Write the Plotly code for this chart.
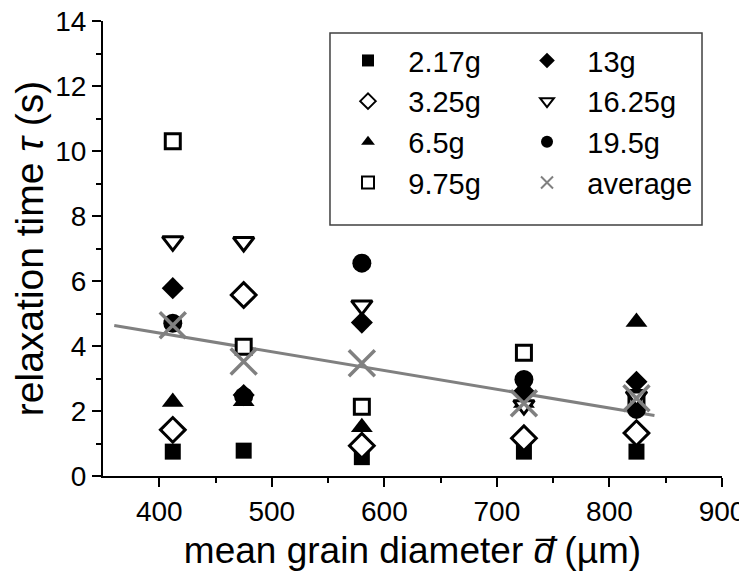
import plotly.graph_objects as go

# mean grain diameter (um) for each measured sample
diameter = [412, 475, 580, 724, 824]

# relaxation time tau (s) per loading mass
tau_2_17 = [0.75, 0.78, 0.58, 0.75, 0.75]
tau_3_25 = [1.42, 5.57, 0.93, 1.16, 1.32]
tau_6_5 = [2.28, 2.30, 1.50, 2.25, 4.74]
tau_9_75 = [10.30, 3.98, 2.13, 3.79, 2.40]
tau_13 = [5.78, 2.49, 4.72, 2.60, 2.90]
tau_16_25 = [7.22, 7.20, 5.25, 2.18, 2.45]
tau_19_5 = [4.70, 2.45, 6.55, 2.97, 2.05]
tau_avg = [4.64, 3.52, 3.47, 2.24, 2.39]

# linear fit through the averages (end points)
fit_d = [360, 840]
fit_tau = [4.63, 1.86]

FONT = "Liberation Sans, Arial, sans-serif"
GRAY = "#808080"
PAD = "\u2002\u2009"  # gap between legend symbol and label

# drawing order (bottom first): name, values, symbol, fill, size, legend, rank
series = [
    ("19.5g", tau_19_5, "circle", "black", 19, "legend2", 3),
    ("2.17g", tau_2_17, "square", "black", 16, "legend", 1),
    ("3.25g", tau_3_25, "diamond", "white", 19, "legend", 2),
    ("6.5g", tau_6_5, "triangle-up", "black", 19, "legend", 3),
    ("9.75g", tau_9_75, "square", "white", 15, "legend", 4),
    ("13g", tau_13, "diamond", "black", 17, "legend2", 1),
    ("16.25g", tau_16_25, "triangle-down", "white", 18, "legend2", 2),
]

fig = go.Figure()

fig.add_trace(go.Scatter(x=fit_d, y=fit_tau, mode="lines",
                         line=dict(color=GRAY, width=3), showlegend=False))

for name, vals, sym, fill, size, leg, rank in series:
    open_marker = fill == "white"
    fig.add_trace(go.Scatter(
        x=diameter, y=vals, mode="markers", name=PAD + name,
        legend=leg, legendrank=rank,
        marker=dict(symbol=sym, size=size, color=fill,
                    line=dict(color="black", width=3 if open_marker else 0)),
    ))

fig.add_trace(go.Scatter(
    x=diameter, y=tau_avg, mode="markers", name=PAD + "average",
    legend="legend2", legendrank=4,
    marker=dict(symbol="x-thin", size=26, color=GRAY,
                line=dict(color=GRAY, width=3.5)),
))

xr = [350, 900]
yr = [0, 14]

leg_style = dict(
    xanchor="left", yanchor="top", itemsizing="constant",
    bgcolor="rgba(0,0,0,0)", borderwidth=0,
    font=dict(size=29, family=FONT), tracegroupgap=0,
)

# page body adds an 8px offset, margins are shifted to compensate
fig.update_layout(
    width=747, height=575,
    margin=dict(l=95, r=33, t=13, b=107),
    plot_bgcolor="white", paper_bgcolor="white",
    font=dict(family=FONT, color="black", size=28),
    legend=dict(x=0.3958, y=0.969, **leg_style),
    legend2=dict(x=0.685, y=0.969, **leg_style),
    shapes=[dict(type="rect", xref="paper", yref="paper",
                 x0=0.3667, x1=0.9677, y0=0.5516, y1=0.9736,
                 line=dict(color="#404040", width=1.5))],
    xaxis=dict(
        range=xr, showline=True, linecolor="black", linewidth=2,
        ticks="outside", ticklen=9, tickwidth=2, tickcolor="black",
        tickvals=[400, 500, 600, 700, 800, 900], showgrid=False, zeroline=False,
        minor=dict(ticks="outside", ticklen=5, tickwidth=2, tickcolor="black",
                   tickvals=[450, 550, 650, 750, 850], showgrid=False),
        tickfont=dict(size=28), automargin=False, ticklabeloverflow="allow",
        title=dict(text="mean grain diameter <i>d\u0305</i> (\u00b5m)",
                   font=dict(size=37), standoff=12),
    ),
    yaxis=dict(
        range=yr, showline=True, linecolor="black", linewidth=2,
        ticks="outside", ticklen=9, tickwidth=2, tickcolor="black",
        dtick=2, showgrid=False, zeroline=False,
        minor=dict(ticks="outside", ticklen=5, tickwidth=2, tickcolor="black",
                   dtick=1, showgrid=False),
        tickfont=dict(size=28), automargin=False, ticklabeloverflow="allow",
        title=dict(text="relaxation time <i>\u03c4</i> (s)",
                   font=dict(size=39), standoff=12),
    ),
    xaxis2=dict(
        range=xr, overlaying="x", side="top", anchor="y", automargin=False,
        showline=True, linecolor="black", linewidth=2,
        ticks="inside", ticklen=7, tickwidth=2, tickcolor="black",
        tickvals=[400, 450, 500, 550, 600, 650, 700, 750, 800, 850],
        showticklabels=False, showgrid=False, zeroline=False,
    ),
    yaxis2=dict(
        range=yr, overlaying="y", side="right", anchor="x", automargin=False,
        showline=True, linecolor="black", linewidth=2,
        ticks="outside", ticklen=7, tickwidth=2, tickcolor="black",
        dtick=1, showticklabels=False, showgrid=False, zeroline=False,
    ),
)

fig.write_html("out.html")
